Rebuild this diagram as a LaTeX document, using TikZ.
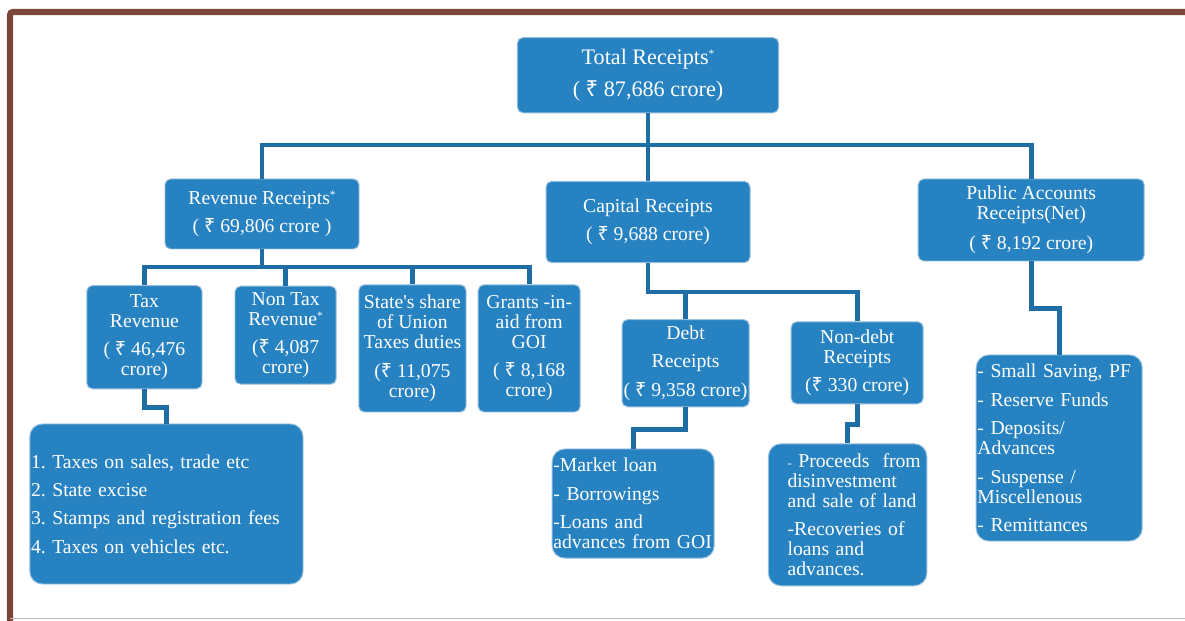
\documentclass[tikz,border=0pt]{standalone}
\usepackage{fontspec}
\setmainfont{Liberation Serif}
\newfontfamily\rupeefont{Noto Sans}
\usetikzlibrary{positioning}
\definecolor{rcblue}{RGB}{39,130,193}
\definecolor{rcedge}{RGB}{150,190,222}
\definecolor{rcline}{RGB}{30,110,165}
\definecolor{rcbrown}{RGB}{122,70,60}
\definecolor{rcgray}{RGB}{190,186,182}
\newcommand{\rupee}{{\rupeefont ₹}}
\newcommand{\fnmark}{\raisebox{0.7ex}{\fontsize{8}{8}\selectfont *}}

\begin{document}
\begin{tikzpicture}[
  box/.style={draw=rcedge, fill=rcblue, text=white, line width=0.7pt, rounded corners=4pt, align=center, inner sep=1pt, font={\fontsize{14}{14.2}\selectfont\frenchspacing}},
  listbox/.style={box, rounded corners=9pt, align=left, inner xsep=0.03cm},
  conn/.style={draw=rcline, line width=3.5pt}
]
  \useasboundingbox (0,0) rectangle (29.625,15.5);

  % page frame
  \draw[rcbrown, line width=4.3pt, rounded corners=2pt] (0.25,-0.2) |- (29.9,15.2);
  \draw[rcgray, line width=0.6pt] (0.25,0.05) -- (29.625,0.05);

  % Level 1
  \node[box, minimum width=6.53cm, minimum height=1.88cm, font={\fontsize{15.75}{16}\selectfont}] (total) at (16.2,13.62) {Total Receipts\fnmark\\[7pt]( \rupee{} 87,686 crore)};

  % Level 2
  \node[box, minimum width=4.85cm, minimum height=1.75cm] (rev) at (6.55,10.15) {Revenue Receipts\fnmark\\[6pt]( \rupee{} 69,806 crore )};
  \node[box, minimum width=5.10cm, minimum height=2.03cm] (cap) at (16.2,9.95) {Capital Receipts\\[6pt]( \rupee{} 9,688 crore)};
  \node[box, minimum width=5.65cm, minimum height=2.05cm] (pub) at (25.78,10.0) {Public Accounts\\Receipts(Net)\\[7pt]( \rupee{} 8,192 crore)};

  % Revenue receipts
  \node[box, minimum width=2.88cm, minimum height=2.58cm] (tax) at (3.61,7.07) {Tax\\Revenue\\[6pt]( \rupee{} 46,476\\crore)};
  \node[box, minimum width=2.53cm, minimum height=2.45cm] (nontax) at (7.14,7.12) {Non Tax\\Revenue\fnmark\\[6pt](\rupee{} 4,087\\crore)};
  \node[box, minimum width=2.68cm, minimum height=3.18cm] (share) at (10.31,6.79) {State\textquotesingle s share\\of Union\\Taxes duties\\[6pt](\rupee{} 11,075\\crore)};
  \node[box, minimum width=2.55cm, minimum height=3.18cm] (grants) at (13.23,6.79) {Grants -in-\\aid from\\GOI\\[6pt]( \rupee{} 8,168\\crore)};
  \node[listbox, text width=6.77cm, minimum height=4.0cm] (taxlist) at (4.16,2.90) {1. Taxes on sales, trade etc\\[6pt]2. State excise\\[6pt]3. Stamps and registration fees\\[6pt]4. Taxes on vehicles etc.};

  % Capital receipts
  \node[box, minimum width=3.18cm, minimum height=2.18cm] (debt) at (17.14,6.42) {Debt\\[6pt]Receipts\\[6pt]( \rupee{} 9,358 crore)};
  \node[box, minimum width=3.30cm, minimum height=2.05cm] (nondebt) at (21.43,6.43) {Non-debt\\Receipts\\[6pt](\rupee{} 330 crore)};
  \node[listbox, text width=3.99cm, minimum height=2.73cm] (debtlist) at (15.83,2.91) {-Market loan\\[6pt]- Borrowings\\[6pt]-Loans and\\advances from GOI};
  \node[listbox, text width=3.9cm, minimum height=3.55cm] (nondebtlist) at (21.19,2.63) {\leftskip=0.45cm \mbox{{\small -} Proceeds\ \ from}\\disinvestment\\and sale of land\\[6pt]-Recoveries of\\loans and\\advances.\par};

  % Public accounts
  \node[listbox, text width=4.09cm, minimum height=4.65cm] (publist) at (26.48,4.30) {- Small Saving, PF\\[6pt]- Reserve Funds\\[6pt]- Deposits/\\Advances\\[6pt]- Suspense /\\Miscellenous\\[6pt]- Remittances};

  % connectors
  \path (0,11.875) coordinate (topbus) (0,8.825) coordinate (revbus) (0,8.2) coordinate (capbus);
  \draw[conn] (total) -- (cap);
  \draw[conn] (rev.north) |- (topbus -| pub.north) -- (pub.north);
  \draw[conn] (rev.south) -- (rev.south |- revbus);
  \draw[conn] (tax.north) |- (revbus -| grants.north) -- (grants.north);
  \foreach \n in {nontax,share}
    \draw[conn] (\n.north) -- (\n.north |- revbus);
  \draw[conn] (cap.south) |- (capbus -| nondebt.north) -- (nondebt.north);
  \draw[conn] (debt.north) -- (debt.north |- capbus);
  \draw[conn] (tax.south) -- ++(0,-0.45) -| (taxlist.north);
  \draw[conn] (debt.south) -- ++(0,-0.55) -| (debtlist.north);
  \draw[conn] (nondebt.south) -- ++(0,-0.5) -| (nondebtlist.north);
  \draw[conn] (pub.south) -- ++(0,-1.175) -| (publist.north);
\end{tikzpicture}
\end{document}
